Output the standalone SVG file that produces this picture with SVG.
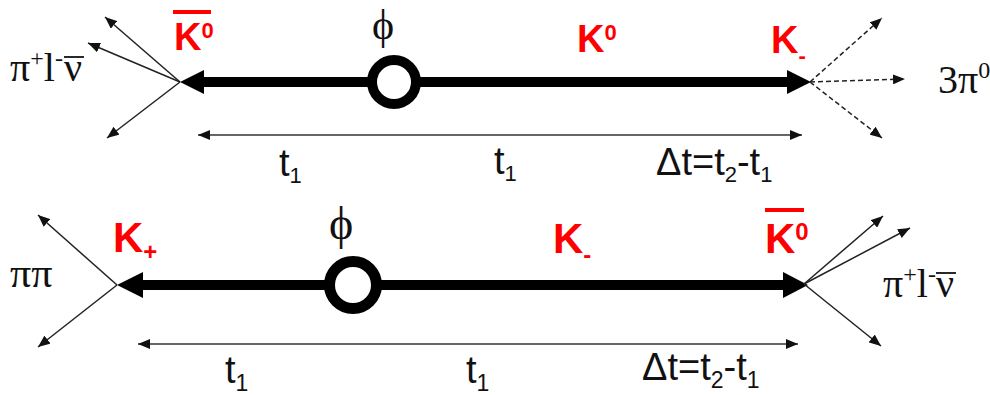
<svg xmlns="http://www.w3.org/2000/svg" width="990" height="395" viewBox="0 0 990 395">
<style>
.bg{fill:#ffffff}
.main{stroke:#000;stroke-width:10;fill:none}
.head{fill:#000}
.ring{fill:#fff;stroke:#000}
.dim{stroke:#333;stroke-width:1.5;fill:none}
.tick{fill:#111}
.decay{stroke:#222;stroke-width:1.5;fill:none}
.dash{stroke-dasharray:5 3}
.k{font-family:"Liberation Sans",Arial,sans-serif;font-weight:bold;fill:#ff0000}
.bar{stroke:#ff0000;stroke-width:4}
.nubar{stroke:#111;stroke-width:1.8}
.serif{font-family:"Liberation Serif","Times New Roman",serif;fill:#111}
.sans{font-family:"Liberation Sans",Arial,sans-serif;fill:#111;font-size:38px}
</style>
<defs>
<marker id="ah" viewBox="0 0 12 10" refX="12" refY="5" markerWidth="12" markerHeight="10" markerUnits="userSpaceOnUse" orient="auto-start-reverse">
<path d="M0,0 L12,5 L0,10 z" fill="#111"/>
</marker>
</defs>
<rect class="bg" x="0" y="0" width="990" height="395"/>

<g id="connectors">
  <line class="main" x1="200" y1="82" x2="790" y2="82"/>
  <polygon class="head" points="180,82 204,70 204,94"/>
  <polygon class="head" points="811,82 787,70 787,94"/>
  <line class="decay" x1="180" y1="82" x2="105" y2="17" marker-end="url(#ah)"/>
  <line class="decay" x1="180" y1="82" x2="88" y2="43" marker-end="url(#ah)"/>
  <line class="decay" x1="180" y1="82" x2="107" y2="138" marker-end="url(#ah)"/>
  <line class="decay dash" x1="810" y1="82" x2="882" y2="18" marker-end="url(#ah)"/>
  <line class="decay dash" x1="810" y1="82" x2="905" y2="79" marker-end="url(#ah)"/>
  <line class="decay dash" x1="810" y1="82" x2="882" y2="138" marker-end="url(#ah)"/>
  <line class="dim" x1="198" y1="135" x2="802" y2="135" marker-start="url(#ah)" marker-end="url(#ah)"/>
  <polygon class="tick" points="391,130 397,135 391,140 403,130 397,135 403,140"/>
  <polygon class="tick" points="585,130 591,135 585,140 597,130 591,135 597,140"/>

  <line class="main" x1="140" y1="285" x2="786" y2="285"/>
  <polygon class="head" points="117,285 143,272 143,298"/>
  <polygon class="head" points="808,285 783,272 783,298"/>
  <line class="decay" x1="117" y1="285" x2="38" y2="215" marker-end="url(#ah)"/>
  <line class="decay" x1="117" y1="285" x2="38" y2="347" marker-end="url(#ah)"/>
  <line class="decay" x1="804" y1="284" x2="883" y2="216" marker-end="url(#ah)"/>
  <line class="decay" x1="804" y1="284" x2="910" y2="228" marker-end="url(#ah)"/>
  <line class="decay" x1="804" y1="284" x2="881" y2="346" marker-end="url(#ah)"/>
  <line class="dim" x1="138" y1="344" x2="798" y2="344" marker-start="url(#ah)" marker-end="url(#ah)"/>
  <polygon class="tick" points="350,339 356,344 350,349 362,339 356,344 362,349"/>
  <polygon class="tick" points="563,339 569,344 563,349 575,339 569,344 575,349"/>
</g>

<g id="phi-top">
  <circle class="ring" cx="394" cy="82" r="22" stroke-width="10"/>
  <text class="serif" x="383" y="39" font-size="42" text-anchor="middle">ϕ</text>
</g>
<g id="kbar0-top">
  <line class="bar" x1="173" y1="12" x2="211" y2="12"/>
  <text class="k" x="174" y="50" font-size="38">K<tspan dy="-12" font-size="22">0</tspan></text>
</g>
<g id="k0-top">
  <text class="k" x="577" y="52" font-size="38">K<tspan dy="-12" font-size="22">0</tspan></text>
</g>
<g id="kminus-top">
  <text class="k" x="771" y="53" font-size="38">K<tspan dy="10" font-size="22">-</tspan></text>
</g>
<g id="semileptonic-top">
  <line class="nubar" x1="64" y1="57" x2="84" y2="57"/>
  <text class="serif" x="10" y="81" font-size="40">π<tspan dy="-15" font-size="24">+</tspan><tspan dy="15">l</tspan><tspan dy="-15" font-size="24">-</tspan><tspan x="64" dy="15">ν</tspan></text>
</g>
<g id="threepi0">
  <text class="serif" x="938" y="93" font-size="40">3π<tspan dy="-15" font-size="24">0</tspan></text>
</g>
<g id="dim-labels-top">
  <text class="sans" x="279" y="176">t<tspan dy="7" font-size="22">1</tspan></text>
  <text class="sans" x="494" y="174">t<tspan dy="7" font-size="22">1</tspan></text>
  <text class="sans" x="656" y="175">Δt=t<tspan dy="7" font-size="22">2</tspan><tspan dy="-7">-t</tspan><tspan dy="7" font-size="22">1</tspan></text>
</g>

<g id="phi-bottom">
  <circle class="ring" cx="353" cy="285" r="23.5" stroke-width="11"/>
  <text class="serif" x="341" y="239" font-size="46" text-anchor="middle">ϕ</text>
</g>
<g id="kplus-bottom">
  <text class="k" x="113" y="252" font-size="42">K<tspan dy="8" font-size="24">+</tspan></text>
</g>
<g id="kminus-bottom">
  <text class="k" x="553" y="253" font-size="42">K<tspan dy="10" font-size="24">-</tspan></text>
</g>
<g id="kbar0-bottom">
  <line class="bar" x1="765" y1="210" x2="804" y2="210"/>
  <text class="k" x="765" y="253" font-size="42">K<tspan dy="-13" font-size="24">0</tspan></text>
</g>
<g id="pipi">
  <text class="serif" x="10" y="287" font-size="42">ππ</text>
</g>
<g id="semileptonic-bottom">
  <line class="nubar" x1="936" y1="273" x2="956" y2="273"/>
  <text class="serif" x="883" y="297" font-size="40">π<tspan dy="-15" font-size="24">+</tspan><tspan dy="15">l</tspan><tspan dy="-15" font-size="24">-</tspan><tspan x="936" dy="15">ν</tspan></text>
</g>
<g id="dim-labels-bottom">
  <text class="sans" x="225" y="383">t<tspan dy="8" font-size="23">1</tspan></text>
  <text class="sans" x="466" y="383">t<tspan dy="8" font-size="23">1</tspan></text>
  <text class="sans" x="642" y="380">Δt=t<tspan dy="8" font-size="23">2</tspan><tspan dy="-8">-t</tspan><tspan dy="8" font-size="23">1</tspan></text>
</g>
</svg>
